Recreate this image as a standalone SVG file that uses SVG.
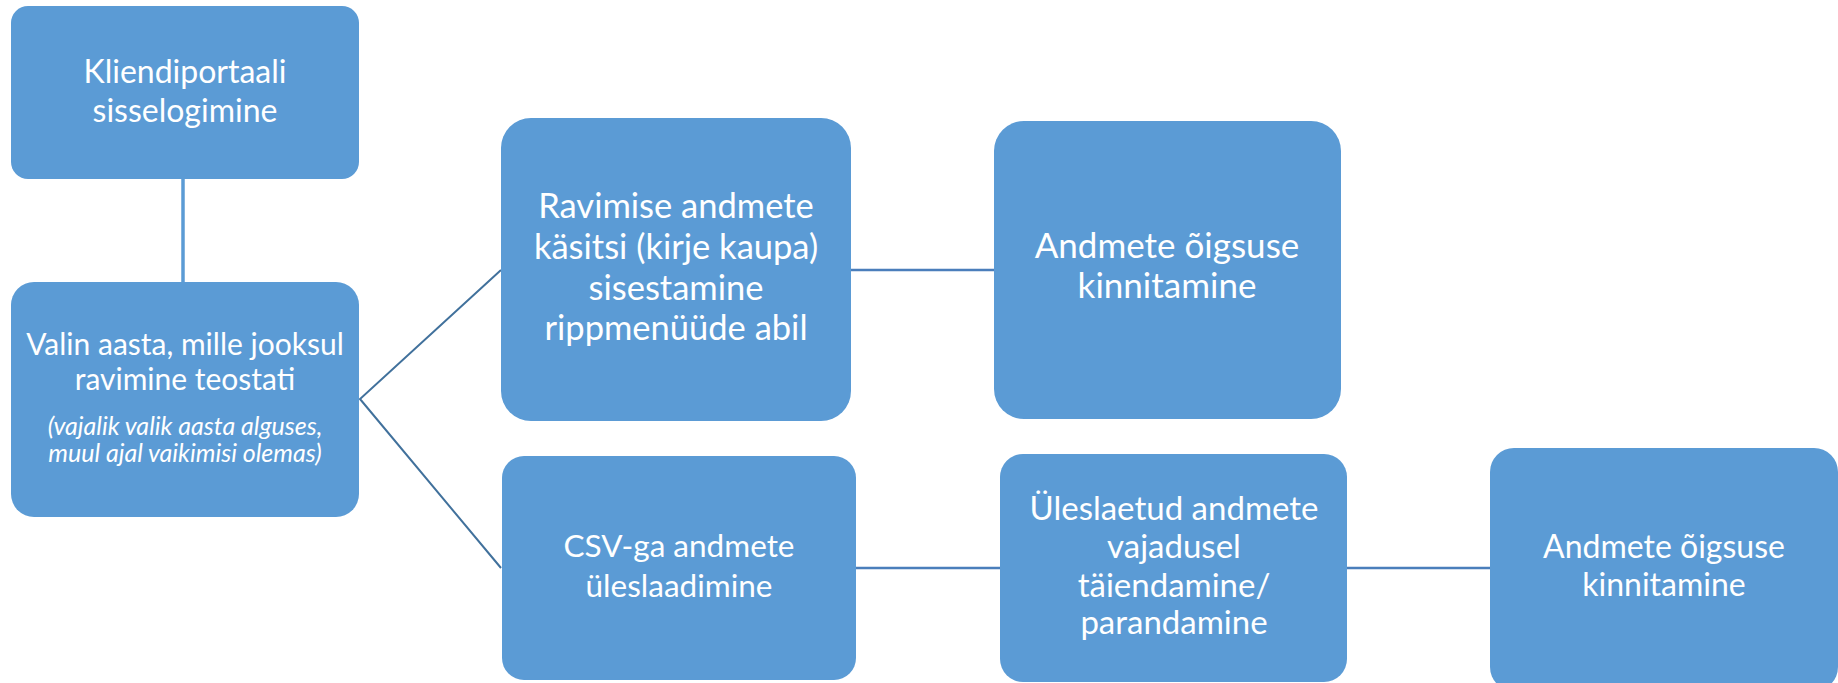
<svg xmlns="http://www.w3.org/2000/svg" width="1838" height="683" viewBox="0 0 1838 683">
<style>
.box{fill:#5B9BD5;}
.t{font-family:Lato,"Liberation Sans",sans-serif;fill:#FFFFFF;text-anchor:middle;}
.c{fill:none;stroke:#4A7EBB;stroke-width:2.5;}
.d{fill:none;stroke:#41719C;stroke-width:2;}
.v{fill:none;stroke:#5B9BD5;stroke-width:3.5;}
</style>
<rect width="1838" height="683" fill="#FFFFFF"/>
<g id="connectors">
<line class="v" x1="183" y1="179" x2="183" y2="282"/>
<polyline class="d" points="501,270 360,399 501,568"/>
<line class="c" x1="851" y1="270" x2="994" y2="270"/>
<line class="c" x1="856" y1="568" x2="1000" y2="568"/>
<line class="c" x1="1347" y1="568" x2="1490" y2="568"/>
</g>
<g id="n1">
<rect class="box" x="11" y="6" width="348" height="173" rx="17"/>
<text class="t" font-size="32"><tspan x="185" y="83">Kliendiportaali</tspan><tspan x="185" y="122">sisselogimine</tspan></text>
</g>
<g id="n2">
<rect class="box" x="11" y="282" width="348" height="235" rx="23"/>
<text class="t" font-size="30"><tspan x="185" y="355">Valin aasta, mille jooksul</tspan><tspan x="185" y="390">ravimine teostati</tspan></text>
<text class="t" font-size="25" font-style="italic"><tspan x="185" y="435">(vajalik valik aasta alguses,</tspan><tspan x="185" y="462">muul ajal vaikimisi olemas)</tspan></text>
</g>
<g id="n3">
<rect class="box" x="501" y="118" width="350" height="303" rx="30"/>
<text class="t" font-size="34.5"><tspan x="676" y="218">Ravimise andmete</tspan><tspan x="676" y="259">käsitsi (kirje kaupa)</tspan><tspan x="676" y="300">sisestamine</tspan><tspan x="676" y="340">rippmenüüde abil</tspan></text>
</g>
<g id="n4">
<rect class="box" x="994" y="121" width="347" height="298" rx="30"/>
<text class="t" font-size="35"><tspan x="1167" y="258">Andmete õigsuse</tspan><tspan x="1167" y="298">kinnitamine</tspan></text>
</g>
<g id="n5">
<rect class="box" x="502" y="456" width="354" height="224" rx="22"/>
<text class="t" font-size="31.5"><tspan x="679" y="557">CSV-ga andmete</tspan><tspan x="679" y="597">üleslaadimine</tspan></text>
</g>
<g id="n6">
<rect class="box" x="1000" y="454" width="347" height="228" rx="23"/>
<text class="t" font-size="33"><tspan x="1174" y="520">Üleslaetud andmete</tspan><tspan x="1174" y="558">vajadusel</tspan><tspan x="1174" y="597">täiendamine/</tspan><tspan x="1174" y="634">parandamine</tspan></text>
</g>
<g id="n7">
<rect class="box" x="1490" y="448" width="348" height="243" rx="24"/>
<text class="t" font-size="32"><tspan x="1664" y="558">Andmete õigsuse</tspan><tspan x="1664" y="596">kinnitamine</tspan></text>
</g>
</svg>
